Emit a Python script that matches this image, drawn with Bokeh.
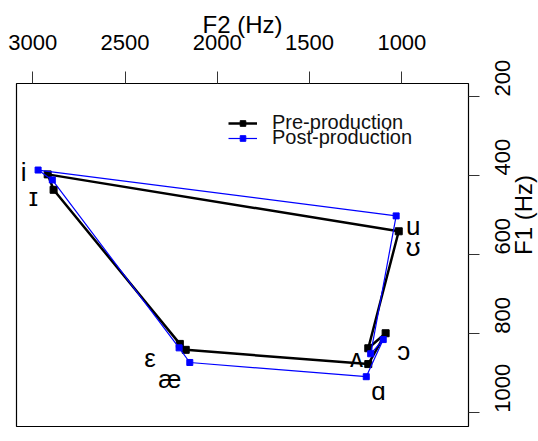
import math
from bokeh.plotting import figure
from bokeh.models import Range1d, FixedTicker, Legend, LegendItem, ColumnDataSource
from bokeh.core.properties import value
from bokeh.embed import file_html
from bokeh.resources import INLINE

# ---- data ----
vowels = ["i", "ɪ", "ε", "æ", "ɑ", "ɔ", "ʌ", "u"]
pre_f2 = [2919, 2887, 2203, 2171, 1182, 1088, 1182, 1017]
pre_f1 = [397, 436, 826, 841, 877, 799, 837, 541]
post_f2 = [2971, 2894, 2207, 2149, 1193, 1101, 1169, 1031]
post_f1 = [386, 411, 836, 873, 909, 815, 851, 502]

label_text = ["i", "ɪ", "ε", "æ", "ʌ", "ɑ", "ɔ", "u", "ʊ"]
label_f2 = [3050, 2996, 2365, 2257, 1246, 1127, 990, 939, 939]
label_f1 = [392, 455, 861, 914, 861, 944, 843, 527, 582]

f2_ticks = [3000, 2500, 2000, 1500, 1000]
f1_ticks = [200, 400, 600, 800, 1000]

FONT = "Liberation Sans"

p = figure(width=553, height=441, output_backend="svg", toolbar_location=None,
           x_range=Range1d(3088, 639), y_range=Range1d(1035, 167),
           x_axis_location="above", y_axis_location="right",
           min_border_left=16, min_border_top=83, min_border_bottom=15, min_border_right=83)
p.grid.visible = False
p.outline_line_color = "black"
p.outline_line_width = 1.2
p.background_fill_color = "white"
p.border_fill_color = "white"

xa = p.xaxis[0]
xa.ticker = FixedTicker(ticks=f2_ticks)
xa.major_label_text_font = FONT
xa.major_label_text_font_size = "22px"
xa.major_label_text_color = "black"
xa.major_tick_out = 12
xa.major_tick_in = 0
xa.minor_tick_out = 0
xa.minor_tick_in = 0
xa.axis_line_color = None
xa.major_tick_line_color = "#333333"
xa.major_label_standoff = 22
xa.axis_label = "F2 (Hz)"
xa.axis_label_text_font = FONT
xa.axis_label_text_font_size = "24px"
xa.axis_label_text_font_style = "normal"
xa.axis_label_text_color = "black"
xa.axis_label_standoff = -6

ya = p.yaxis[0]
ya.ticker = FixedTicker(ticks=f1_ticks)
ya.major_label_text_font = FONT
ya.major_label_text_font_size = "22px"
ya.major_label_text_color = "black"
ya.major_label_orientation = math.pi / 2
ya.major_tick_out = 11
ya.major_tick_in = 0
ya.minor_tick_out = 0
ya.minor_tick_in = 0
ya.axis_line_color = None
ya.major_tick_line_color = "#333333"
ya.major_label_standoff = 23
ya.axis_label = "F1 (Hz)"
ya.axis_label_text_font = FONT
ya.axis_label_text_font_size = "24px"
ya.axis_label_text_font_style = "normal"
ya.axis_label_text_color = "black"
ya.axis_label_standoff = 3
ya.axis_label_text_align = "center"
try:
    ya.axis_label_orientation = math.pi / 2
except Exception:
    pass

pre_x = pre_f2 + pre_f2[:1]
pre_y = pre_f1 + pre_f1[:1]
post_x = post_f2 + post_f2[:1]
post_y = post_f1 + post_f1[:1]

l_pre = p.line(pre_x, pre_y, line_color="black", line_width=2.5)
s_pre = p.scatter(pre_f2, pre_f1, marker="square", size=7, fill_color="black", line_color="black")
l_post = p.line(post_x, post_y, line_color="#0000ff", line_width=1.2)
s_post = p.scatter(post_f2, post_f1, marker="square", size=6, fill_color="#0000ff", line_color="#0000ff")

src = ColumnDataSource(dict(x=label_f2, y=label_f1, t=label_text))
p.text(x="x", y="y", text="t", source=src, text_font=value(FONT), text_font_size="26px",
       text_align="center", text_baseline="alphabetic", text_color="black")


def make_legend(label, rends, loc):
    lg = Legend(items=[LegendItem(label=label, renderers=rends)], location=loc)
    lg.label_text_font = FONT
    lg.label_text_font_size = "20px"
    lg.label_text_color = "#111111"
    lg.glyph_width = 29
    lg.glyph_height = 14
    lg.label_height = 14
    lg.label_standoff = 15
    lg.spacing = 0
    lg.padding = 0
    lg.margin = 0
    lg.border_line_color = None
    lg.background_fill_alpha = 0
    return lg


p.add_layout(make_legend("Pre-production", [l_pre, s_pre], (212, 292)), "center")
p.add_layout(make_legend("Post-production", [l_post, s_post], (212, 277)), "center")

open("out.html", "w").write(file_html(p, INLINE))
